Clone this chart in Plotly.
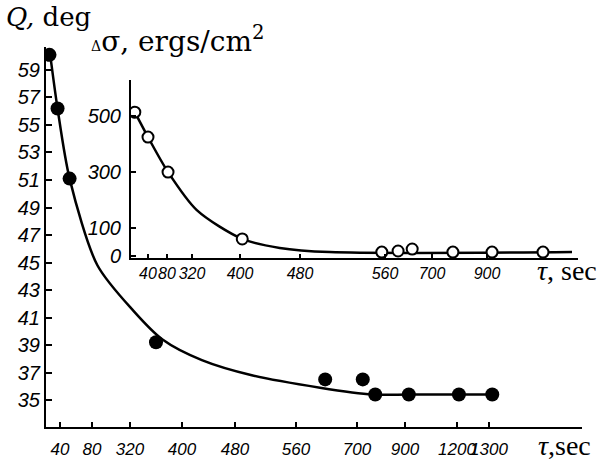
import numpy as np
import plotly.graph_objects as go

# ---------------- data ----------------
# main graph: contact angle Q (deg) vs time tau (sec), filled points
main_tau = [10, 33, 52, 360, 627, 724, 776, 922, 1206, 1307]
main_Q = [60.1, 56.2, 51.1, 39.2, 36.5, 36.5, 35.4, 35.4, 35.4, 35.4]
# smooth curve drawn through them
main_curve_tau = [11, 33, 52, 114, 325, 370, 430, 502, 615, 764, 922, 1206, 1307]
main_curve_Q = [60.3, 56.2, 51.1, 44.8, 41.5, 39.4, 37.9, 36.8, 35.9, 35.4, 35.4, 35.4, 35.4]

# inset: delta sigma (ergs/cm^2) vs tau, open points
inset_tau = [9, 40, 90, 403, 557, 599, 641, 776, 936, 1300]
inset_ds = [514, 425, 300, 61, 14, 18, 25, 14, 14, 14]
inset_curve_tau = [9, 40, 90, 328, 403, 453, 508, 1400]
inset_curve_ds = [514, 425, 300, 164, 61, 29, 14, 14]

# tick labels
main_tick_tau = [40, 80, 320, 400, 480, 560, 700, 900, 1200, 1300]
inset_tick_tau = [40, 80, 320, 400, 480, 560, 700, 900]
main_y_ticks = list(range(35, 60, 2))
inset_y_ticks = [0, 100, 300, 500]

# the time axes are drawn with broken / non-uniform scales:
# anchor points (tau -> position along the axis)
main_scale_tau = [0, 40, 80, 320, 400, 480, 560, 700, 900, 1200, 1300, 1500]
main_scale_pos = [46, 60, 92, 130, 182, 235, 296, 357, 405, 457, 489, 582]
inset_scale_tau = [0, 40, 80, 320, 400, 480, 560, 700, 900, 1300, 1400]
inset_scale_pos = [131, 148, 167, 192, 240, 300, 385, 432, 487, 543, 572]


def mpos(t):
    return np.interp(t, main_scale_tau, main_scale_pos)


def ipos(t):
    return np.interp(t, inset_scale_tau, inset_scale_pos)


W, H = 611, 463
fig = go.Figure()

fig.add_trace(go.Scatter(x=mpos(main_curve_tau), y=main_curve_Q, mode="lines",
                         line=dict(color="black", width=2.5, shape="spline", smoothing=0.8),
                         xaxis="x", yaxis="y", showlegend=False, hoverinfo="skip"))
fig.add_trace(go.Scatter(x=mpos(main_tau), y=main_Q, mode="markers",
                         marker=dict(color="black", size=14),
                         xaxis="x", yaxis="y", showlegend=False))
fig.add_trace(go.Scatter(x=ipos(inset_curve_tau), y=inset_curve_ds, mode="lines",
                         line=dict(color="black", width=2.5, shape="spline", smoothing=0.8),
                         xaxis="x2", yaxis="y2", showlegend=False, hoverinfo="skip"))
fig.add_trace(go.Scatter(x=ipos(inset_tau), y=inset_ds, mode="markers",
                         marker=dict(color="white", size=11, line=dict(color="black", width=2)),
                         xaxis="x2", yaxis="y2", showlegend=False))

num_font = dict(family="Liberation Sans", size=20, color="black", style="italic")
xnum_font = dict(family="Liberation Sans", size=17, color="black", style="italic")
inum_font = dict(family="Liberation Sans", size=16, color="black", style="italic")

axis_common = dict(showline=True, linecolor="black", linewidth=2, showgrid=False,
                   zeroline=False, ticks="inside", tickcolor="black", tickwidth=2,
                   automargin=False)

fig.update_layout(
    width=W, height=H, margin=dict(l=0, r=0, t=0, b=0, autoexpand=False),
    paper_bgcolor="white", plot_bgcolor="rgba(0,0,0,0)",
    xaxis=dict(domain=[46 / W, 582 / W], range=[46, 582], anchor="y",
               tickvals=mpos(main_tick_tau), ticktext=[str(v) for v in main_tick_tau],
               ticklen=5, tickangle=0, tickfont=xnum_font, ticklabelstandoff=6, **axis_common),
    yaxis=dict(domain=[1 - 427 / H, 1 - 47 / H], range=[33.04, 60.67], anchor="x",
               tickvals=main_y_ticks, ticklen=6, tickfont=num_font, **axis_common),
    xaxis2=dict(domain=[131 / W, 578 / W], range=[131, 578], anchor="y2",
                tickvals=ipos(inset_tick_tau), ticktext=[str(v) for v in inset_tick_tau],
                ticklen=4, tickangle=0, tickfont=inum_font, **axis_common),
    yaxis2=dict(domain=[1 - 258 / H, 1 - 80 / H], range=[-7, 629], anchor="x2",
                tickvals=inset_y_ticks, ticklen=5, tickfont=num_font, ticklabelstandoff=4,
                **axis_common),
)

serif = "DejaVu Serif"
fig.add_annotation(xref="paper", yref="paper", x=4 / W, y=1 - 0 / H, xanchor="left", yanchor="top",
                   showarrow=False, text="<i>Q,</i> deg",
                   font=dict(family=serif, size=26, color="black"))
fig.add_annotation(xref="paper", yref="paper", x=89 / W, y=1 - 19 / H, xanchor="left", yanchor="top",
                   showarrow=False,
                   text="<span style='font-size:14px'>Δ</span>σ, ergs/cm<sup>2</sup>",
                   font=dict(family=serif, size=28, color="black"))
fig.add_annotation(xref="paper", yref="paper", x=536 / W, y=1 - 428 / H, xanchor="left", yanchor="top",
                   showarrow=False, text="<i>τ</i>,sec",
                   font=dict(family="Liberation Serif", size=28, color="black"))
fig.add_annotation(xref="paper", yref="paper", x=535 / W, y=1 - 253 / H, xanchor="left", yanchor="top",
                   showarrow=False, text="<i>τ</i>, sec",
                   font=dict(family="Liberation Serif", size=28, color="black"))

fig.write_html("out.html", config={"displayModeBar": False},
               post_script="document.body.style.margin='0px';")
